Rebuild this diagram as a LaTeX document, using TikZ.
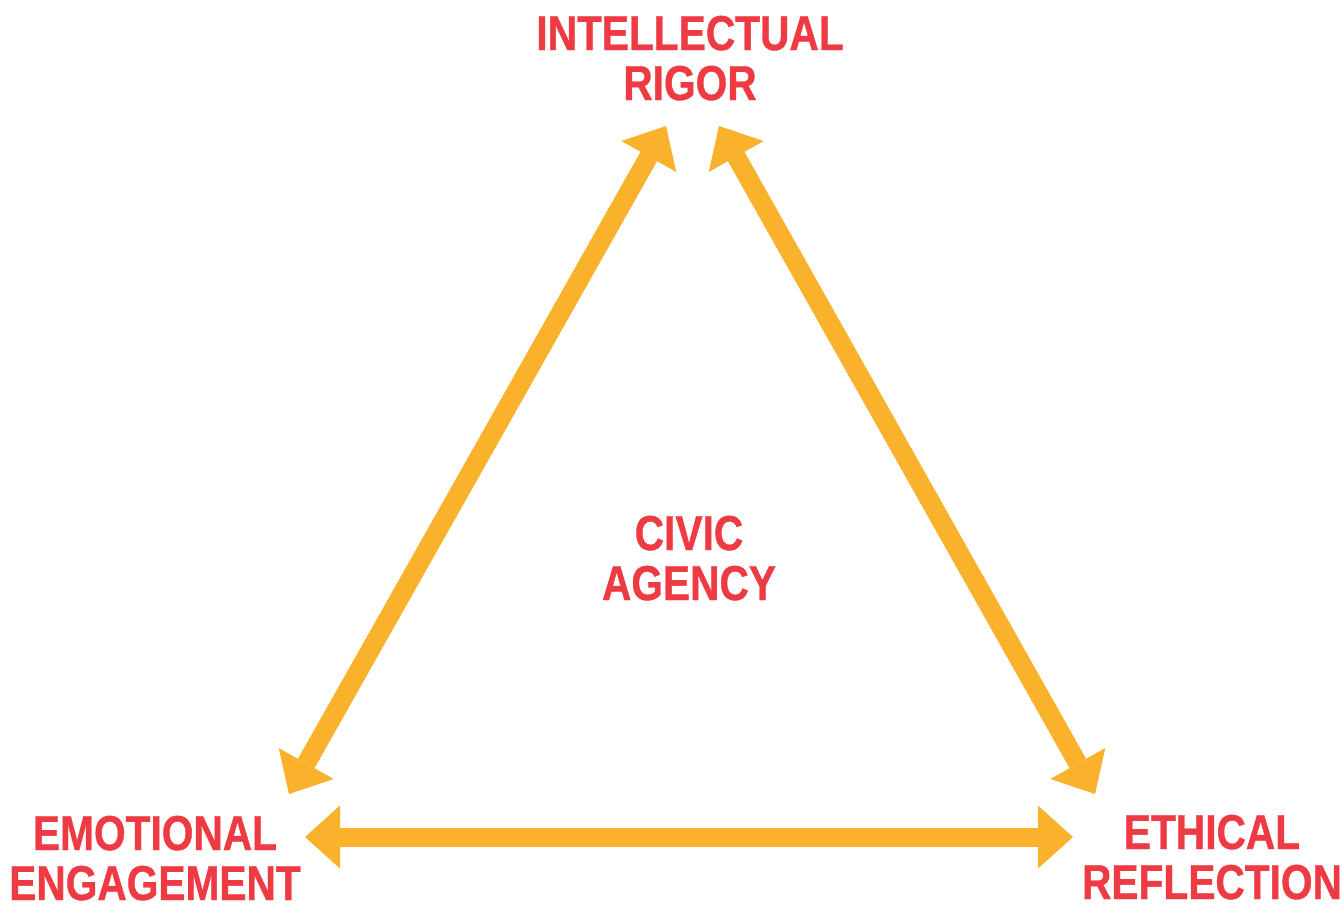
\documentclass[tikz,border=0pt]{standalone}
\usepackage{fontspec}
\usetikzlibrary{arrows.meta}
\newfontfamily\labelfont{Liberation Sans}[FakeStretch=0.83,BoldFeatures={FakeBold=0.8}]
\definecolor{labelred}{HTML}{EE3A43}
\definecolor{arrowgold}{HTML}{FAB12B}
\begin{document}
\begin{tikzpicture}[x=1pt,y=-1pt,
  label/.style={text=labelred, inner sep=0pt, align=center, anchor=base,
    font=\labelfont\bfseries\fontsize{49}{50}\selectfont},
  link/.style={draw=arrowgold, line width=19pt,
    {Triangle[length=35pt,width=63pt,line width=0pt]}-{Triangle[length=35pt,width=63pt,line width=0pt]}}
]
\useasboundingbox (0,0) rectangle (1343,903);

% corner and centre labels (anchored at the baseline of the last line)
\node[label] (rigor) at (690,100) {INTELLECTUAL\\RIGOR};
\node[label] (agency) at (689,600) {CIVIC\\AGENCY};
\node[label] (emotion) at (155,900) {EMOTIONAL\\ENGAGEMENT};
\node[label] (ethics) at (1212,899) {ETHICAL\\REFLECTION};

% arrow tip points
\coordinate (rigorL) at (666,126);
\coordinate (rigorR) at (719,126);
\coordinate (emotionT) at (289,794);
\coordinate (emotionR) at (305,837);
\coordinate (ethicsT) at (1095,794);
\coordinate (ethicsL) at (1073,837);

% two-way links of the triangle
\draw[link] (emotionT) -- (rigorL);
\draw[link] (rigorR) -- (ethicsT);
\draw[link] (emotionR) -- (ethicsL);
\end{tikzpicture}
\end{document}
